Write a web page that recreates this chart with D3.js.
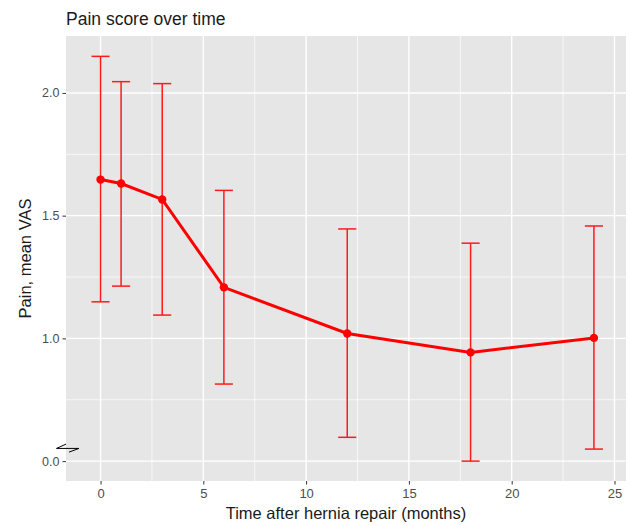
<!DOCTYPE html>
<html>
<head>
<meta charset="utf-8">
<script src="https://cdn.jsdelivr.net/npm/d3@7"></script>
<style>
  html, body { margin: 0; padding: 0; background: #fff; }
  svg { display: block; font-family: "Liberation Sans", Arial, Helvetica, sans-serif; }
</style>
</head>
<body>
<svg id="chart" width="631" height="525"></svg>
<script>
const months = [0, 1, 3, 6, 12, 18, 24]
const meanVAS = [1.647, 1.631, 1.566, 1.208, 1.020, 0.943, 1.002]
const upperVAS = [2.149, 2.046, 2.038, 1.603, 1.446, 1.388, 1.458]
const lowerVAS = [1.149, 1.213, 1.095, 0.814, 0.597, 0.500, 0.549]

const xTicks = [0, 5, 10, 15, 20, 25]
const yTicks = [0.5, 1.0, 1.5, 2.0]
const yTickLabels = ['0.0', '1.0', '1.5', '2.0']

const data = months.map((m, i) => ({ m, mean: meanVAS[i], lo: lowerVAS[i], hi: upperVAS[i] }))

const svg = d3.select('#chart')
const width = 631
const height = 525
const margin = { top: 36, right: 5, bottom: 44, left: 66 }
const innerWidth = width - margin.left - margin.right
const innerHeight = height - margin.top - margin.bottom

// ------------------
// Scales
// ------------------
const x = d3.scaleLinear()
  .domain([-1.68, 25.56])
  .range([0, innerWidth])

const y = d3.scaleLinear()
  .domain([0.419, 2.232])
  .range([innerHeight, 0])

const g = svg.append('g')
  .attr('transform', `translate(${margin.left},${margin.top})`)

// ------------------
// Panel + grid
// ------------------
g.append('rect')
  .attr('width', innerWidth)
  .attr('height', innerHeight)
  .attr('fill', '#e6e6e6')

const xMinor = xTicks.slice(0, -1).map(d => d + 2.5)
const yMinor = [0.75, 1.25, 1.75]

g.selectAll('.xminor').data(xMinor).enter().append('line')
  .attr('x1', d => x(d)).attr('x2', d => x(d))
  .attr('y1', 0).attr('y2', innerHeight)
  .attr('stroke', '#fff').attr('stroke-width', 0.7)

g.selectAll('.yminor').data(yMinor).enter().append('line')
  .attr('x1', 0).attr('x2', innerWidth)
  .attr('y1', d => y(d)).attr('y2', d => y(d))
  .attr('stroke', '#fff').attr('stroke-width', 0.7)

g.selectAll('.xmajor').data(xTicks).enter().append('line')
  .attr('x1', d => x(d)).attr('x2', d => x(d))
  .attr('y1', 0).attr('y2', innerHeight)
  .attr('stroke', '#fff').attr('stroke-width', 1.4)

g.selectAll('.ymajor').data(yTicks).enter().append('line')
  .attr('x1', 0).attr('x2', innerWidth)
  .attr('y1', d => y(d)).attr('y2', d => y(d))
  .attr('stroke', '#fff').attr('stroke-width', 1.4)

// ------------------
// Axes
// ------------------
const xAxis = g.append('g')
  .attr('transform', `translate(0,${innerHeight})`)
  .call(d3.axisBottom(x).tickValues(xTicks).tickSize(3.5).tickPadding(4))

const yAxis = g.append('g')
  .call(d3.axisLeft(y).tickValues(yTicks).tickFormat((d, i) => yTickLabels[i]).tickSize(3.5).tickPadding(3))

;[xAxis, yAxis].forEach(a => {
  a.attr('font-family', null).attr('font-size', null)
  a.select('.domain').remove()
  a.selectAll('line').attr('stroke', '#333').attr('stroke-width', 1)
  a.selectAll('text').attr('fill', '#4d4d4d').attr('font-size', 12.5)
})
xAxis.selectAll('text').attr('font-size', 13)

// axis break marker next to the "0.0" tick
g.append('path')
  .attr('d', 'M0,-17 L-9.5,-12.7 L13,-12.7 L3,-9')
  .attr('fill', 'none')
  .attr('stroke', '#000')
  .attr('stroke-width', 1)
  .attr('transform', `translate(0,${y(0.5)})`)

// ------------------
// Error bars
// ------------------
const cap = 0.44
const eb = g.append('g').attr('stroke', '#ff1a1a').attr('stroke-width', 1.5).attr('fill', 'none')

eb.selectAll('.stem').data(data).enter().append('line')
  .attr('x1', d => x(d.m)).attr('x2', d => x(d.m))
  .attr('y1', d => y(d.lo)).attr('y2', d => y(d.hi))

eb.selectAll('.capHi').data(data).enter().append('line')
  .attr('x1', d => x(d.m - cap)).attr('x2', d => x(d.m + cap))
  .attr('y1', d => y(d.hi)).attr('y2', d => y(d.hi))

eb.selectAll('.capLo').data(data).enter().append('line')
  .attr('x1', d => x(d.m - cap)).attr('x2', d => x(d.m + cap))
  .attr('y1', d => y(d.lo)).attr('y2', d => y(d.lo))

// ------------------
// Mean line + points
// ------------------
const line = d3.line().x(d => x(d.m)).y(d => y(d.mean))

g.append('path')
  .datum(data)
  .attr('d', line)
  .attr('fill', 'none')
  .attr('stroke', '#ff0000')
  .attr('stroke-width', 3)

g.selectAll('.pt').data(data).enter().append('circle')
  .attr('cx', d => x(d.m))
  .attr('cy', d => y(d.mean))
  .attr('r', 4.2)
  .attr('fill', '#ff0000')

// ------------------
// Titles
// ------------------
svg.append('text')
  .attr('x', margin.left)
  .attr('y', 25)
  .attr('font-size', 17.5)
  .attr('fill', '#1a1a1a')
  .text('Pain score over time')

svg.append('text')
  .attr('x', margin.left + innerWidth / 2)
  .attr('y', 519)
  .attr('text-anchor', 'middle')
  .attr('font-size', 16.5)
  .attr('fill', '#1a1a1a')
  .text('Time after hernia repair (months)')

svg.append('text')
  .attr('transform', `translate(31,${margin.top + innerHeight / 2}) rotate(-90)`)
  .attr('text-anchor', 'middle')
  .attr('font-size', 16.5)
  .attr('fill', '#1a1a1a')
  .text('Pain, mean VAS')
</script>
</body>
</html>
